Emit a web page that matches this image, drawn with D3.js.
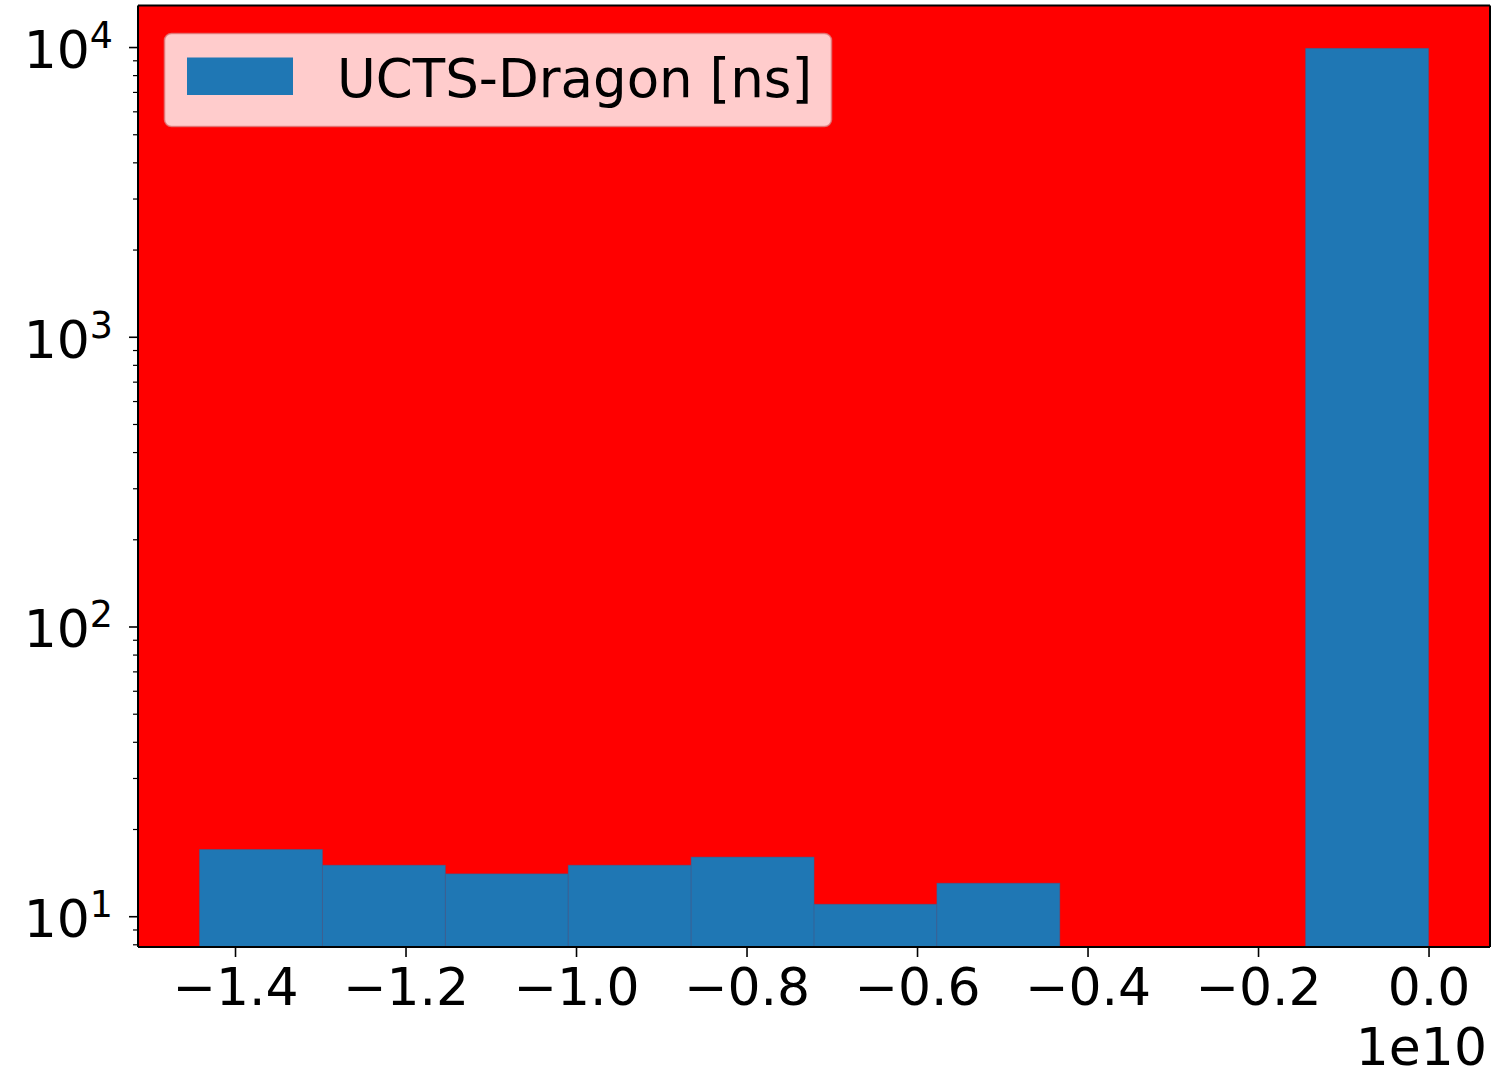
<!DOCTYPE html>
<html><head><meta charset="utf-8">
<script src="https://cdn.jsdelivr.net/npm/d3@7"></script>
<style>body{margin:0;background:#fff} svg{display:block} text{font-family:"DejaVu Sans",sans-serif;fill:#000}</style>
</head><body>
<script>
// data (x in units of 1e10 ns)
const binEdges = [-1.4417,-1.2975,-1.1533,-1.0092,-0.8650,-0.7208,-0.5767,-0.4325,-0.2883,-0.1442,0.0];
const counts = [17,15,14,15,16,11,13,0,0,9899];
const xTickValues = [-1.4,-1.2,-1.0,-0.8,-0.6,-0.4,-0.2,0.0];
const yTickExponents = [1,2,3,4];
const seriesName = "UCTS-Dragon [ns]";
const offsetLabel = "1e10";

const W = 1491, H = 1073;
const L = 138, R = 1490, T = 5.5, B = 947;

const svg = d3.select("body").append("svg").attr("width", W).attr("height", H);

const x = d3.scaleLinear().domain([-1.5138, 0.0721]).range([L, R]);
const y = d3.scaleLog().domain([7.83, 13912]).range([B, T]);

// background
svg.append("rect").attr("x", L).attr("y", T).attr("width", R - L).attr("height", B - T).attr("fill", "#ff0000");

const bins = counts.map((c, i) => ({x0: binEdges[i], x1: binEdges[i+1], c}));
svg.append("g").selectAll("rect").data(bins.filter(d => d.c > 0)).join("rect")
  .attr("x", d => x(d.x0)).attr("width", d => x(d.x1) - x(d.x0))
  .attr("y", d => y(d.c)).attr("height", d => B - y(d.c))
  .attr("fill", "#1f77b4").attr("stroke", "#3b5f8f").attr("stroke-width", 0.8).attr("stroke-opacity", 0.6);

// x axis
const xAxis = d3.axisBottom(x).tickValues(xTickValues).tickSize(10).tickPadding(0)
  .tickFormat(d => (d < 0 ? "\u2212" : "") + Math.abs(d).toFixed(1));
const gx = svg.append("g").attr("transform", `translate(0,${B})`).call(xAxis);
gx.select(".domain").remove();
gx.selectAll(".tick line").attr("stroke", "#000").attr("stroke-width", 1.6);
gx.selectAll(".tick text").attr("font-size", 52).attr("dy", null).attr("y", 58).attr("dominant-baseline", "auto");

svg.append("text").attr("x", 1487).attr("y", 1065).attr("text-anchor", "end").attr("font-size", 52).text(offsetLabel);

// y axis minor ticks
const minor = [];
for (let e = 0; e <= 4; e++) for (let m = 2; m <= 9; m++) { const v = m * Math.pow(10, e); if (v >= y.domain()[0] && v <= y.domain()[1]) minor.push(v); }
const yMinor = d3.axisLeft(y).tickValues(minor).tickSize(5).tickFormat("");
const gym = svg.append("g").attr("transform", `translate(${L},0)`).call(yMinor);
gym.select(".domain").remove();
gym.selectAll(".tick line").attr("stroke", "#000").attr("stroke-width", 1.2);

const yAxis = d3.axisLeft(y).tickValues(yTickExponents.map(e => Math.pow(10, e))).tickSize(9).tickFormat("");
const gy = svg.append("g").attr("transform", `translate(${L},0)`).call(yAxis);
gy.select(".domain").remove();
gy.selectAll(".tick line").attr("stroke", "#000").attr("stroke-width", 1.6);

const ylab = svg.append("g").selectAll("text").data(yTickExponents).join("text")
  .attr("x", 113).attr("y", e => y(Math.pow(10, e)) + 21).attr("text-anchor", "end").attr("font-size", 52);
ylab.append("tspan").text("10");
ylab.append("tspan").attr("font-size", 36.4).attr("dy", -20).text(e => e);

// spines
svg.append("line").attr("x1", L).attr("x2", L).attr("y1", T).attr("y2", B).attr("stroke", "#000").attr("stroke-width", 2);
svg.append("line").attr("x1", L).attr("x2", R).attr("y1", B).attr("y2", B).attr("stroke", "#000").attr("stroke-width", 2);
svg.append("line").attr("x1", L).attr("x2", R).attr("y1", T).attr("y2", T).attr("stroke", "#000").attr("stroke-width", 2);
svg.append("line").attr("x1", R).attr("x2", R).attr("y1", T).attr("y2", B).attr("stroke", "#000").attr("stroke-width", 2);

// legend
const lg = svg.append("g");
lg.append("rect").attr("x", 164.5).attr("y", 33.5).attr("width", 667).attr("height", 93).attr("rx", 7)
  .attr("fill", "rgba(255,255,255,0.8)").attr("stroke", "rgba(220,120,120,0.8)").attr("stroke-width", 1.6);
lg.append("rect").attr("x", 187).attr("y", 57.5).attr("width", 106).attr("height", 37.5).attr("fill", "#1f77b4");
lg.append("text").attr("x", 337).attr("y", 97).attr("font-size", 53).text(seriesName);
</script>
</body></html>
